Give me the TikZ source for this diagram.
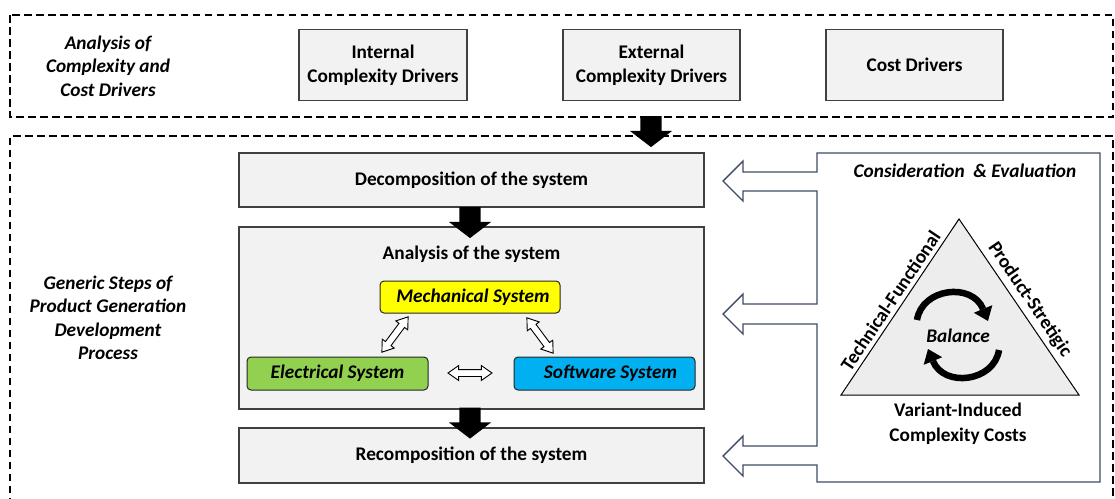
\documentclass[tikz,border=0pt]{standalone}
\usepackage{fontspec}
\setmainfont{Carlito}
\usetikzlibrary{shapes.arrows, arrows.meta}

\definecolor{boxfill}{HTML}{F2F2F2}
\definecolor{boxline}{HTML}{404040}
\definecolor{panelline}{HTML}{3E4B66}
\definecolor{mechyellow}{HTML}{FFFF00}
\definecolor{elecgreen}{HTML}{92D050}
\definecolor{softblue}{HTML}{00B0F0}
\definecolor{trifill}{HTML}{EDEDED}

\tikzset{
  frame/.style={draw=black, line width=1.3pt, dash pattern=on 7.5pt off 4.5pt},
  greybox/.style={draw=boxline, fill=boxfill, line width=1.2pt, align=center, inner sep=0pt},
  sysbox/.style={draw=black!85, rounded corners=4pt, line width=1pt, inner sep=0pt,
    minimum width=181pt, minimum height=32pt, font=\bfseries\itshape\fontsize{19.3}{23}\selectfont},
  title/.style={align=center, font=\bfseries\itshape\fontsize{19.3}{23.5}\selectfont},
  fatarrow/.style={single arrow, fill=black, inner xsep=0pt, inner ysep=10.5pt,
    single arrow head extend=10.5pt, single arrow tip angle=105, minimum height=31pt,
    sloped, midway},
  hollow/.style={double arrow, draw=black, fill=white, line width=0.9pt, inner xsep=0pt,
    inner ysep=3pt, double arrow head extend=4pt, double arrow tip angle=70,
    minimum height=44pt, sloped, midway},
  panel/.style={draw=panelline, line width=1.4pt, fill=white, line join=miter},
  turn/.style={line width=6.5pt, -{Triangle[width=20pt, length=13pt, line width=0pt]}},
}

\begin{document}
\begin{tikzpicture}[x=1pt, y=-1pt, font=\bfseries\fontsize{19.3}{23.5}\selectfont]
\useasboundingbox (0,0) rectangle (1115,498);

% dashed frames
\draw[frame] (10,15) rectangle (1113,117);
\draw[frame] (10,505) -- (10,136) -- (1113,136) -- (1113,505);

% drivers row
\node[title] (drvtitle) at (108,66) {Analysis of\\Complexity and\\Cost Drivers};
\node[greybox, minimum width=168pt, minimum height=71pt] (internal) at (383,65) {Internal\\Complexity Drivers};
\node[greybox, minimum width=177pt, minimum height=71pt] (external) at (651.5,65) {External\\Complexity Drivers};
\node[greybox, minimum width=177pt, minimum height=71pt] (cost) at (914.5,65) {Cost Drivers};

\coordinate (drvout) at (651,112);
\coordinate (stepsin) at (651,143);
\path (drvout) -- (stepsin) node[fatarrow] {};

% generic steps
\node[title] (steptitle) at (108,318) {Generic Steps of\\Product Generation\\Development\\Process};

\node[greybox, minimum width=465pt, minimum height=54pt] (decomp) at (471.5,180) {Decomposition of the system};
\node[greybox, minimum width=465pt, minimum height=182pt] (analysis) at (471.5,318) {};
\node (analysislbl) at (471.5,254) {Analysis of the system};
\node[greybox, minimum width=465pt, minimum height=55pt] (recomp) at (471.5,455.5) {Recomposition of the system};

\path ([yshift=4pt]decomp.south -| 470,0) -- ([yshift=-7pt]analysis.north -| 470,0) node[fatarrow] {};
\path ([yshift=5pt]analysis.south -| 470,0) -- ([yshift=-6pt]recomp.north -| 470,0) node[fatarrow] {};

% subsystems
\node[sysbox, fill=mechyellow, minimum width=180pt] (mech) at (470,297) {\hspace*{6pt}Mechanical System};
\node[sysbox, fill=elecgreen, minimum height=33pt] (elec) at (337.5,373.5) {Electrical System};
\node[sysbox, fill=softblue, minimum height=33pt] (soft) at (604.5,373.5) {\hspace*{12pt}Software System};

\coordinate (me1) at (408,317);
\coordinate (me2) at (382,352);
\coordinate (ms1) at (527,318);
\coordinate (ms2) at (553,353);
\coordinate (es1) at (448,373);
\coordinate (es2) at (492,373);
\path (me1) -- (me2) node[hollow] {};
\path (ms1) -- (ms2) node[hollow] {};
\path (es1) -- (es2) node[hollow] {};

% consideration & evaluation panel with its three feedback arrows
\draw[panel] (817,172) -- (817,153) -- (1100,153) -- (1100,482) -- (817,482)
  -- (817,465) -- (743,465) -- (743,476) -- (723,456) -- (743,436) -- (743,446) -- (817,446)
  -- (817,324) -- (743,324) -- (743,334) -- (723,314) -- (743,294) -- (743,304) -- (817,304)
  -- (817,191) -- (743,191) -- (743,201) -- (723,181) -- (743,161) -- (743,172) -- cycle;

\node[title] (evaltitle) at (965,171) {Consideration~ \& Evaluation};

\coordinate (apex) at (959,219);
\coordinate (baseL) at (841,395);
\coordinate (baseR) at (1079,395);
\draw[fill=trifill, line width=1pt, line join=miter] (apex) -- (baseR) -- (baseL) -- cycle;

\path (baseL) -- (apex) node[midway, sloped, above=1pt] {Technical-Functional};
\path (apex) -- (baseR) node[midway, sloped, above=1pt] {Product-Stretigic};

\node[title] (balance) at (958,336) {Balance};
\draw[turn] (917,320) .. controls (922,288) and (972,282) .. (988,321);
\draw[turn] (999,350) .. controls (994,382) and (944,388) .. (928,349);

\node[align=center, font=\bfseries\fontsize{19.3}{25}\selectfont] (costs) at (958,424) {Variant-Induced\\Complexity Costs};

\end{tikzpicture}
\end{document}
